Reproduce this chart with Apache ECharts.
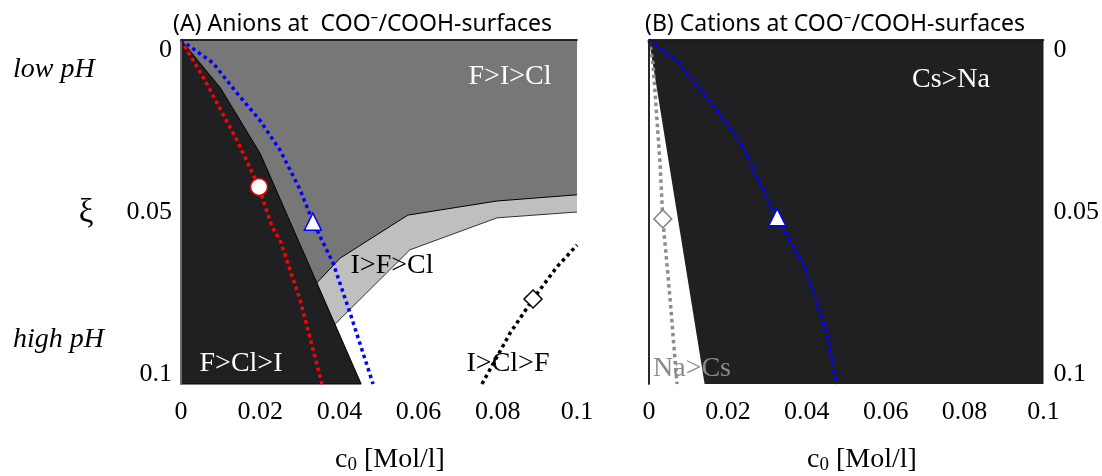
<!DOCTYPE html>
<html><head><meta charset="utf-8">
<script src="https://cdn.jsdelivr.net/npm/echarts@6/dist/echarts.min.js"></script>
<style>html,body{margin:0;padding:0;background:#fff}#c{width:1102px;height:476px}</style>
</head><body><div id="c"></div><script>
// ---- data (c0 [Mol/l], xi) ----
const xTickLabels = ['0','0.02','0.04','0.06','0.08','0.1'];
const yTickLabels = ['0','0.05','0.1'];
const axisRange = [0, 0.1];

// Panel A: region boundaries
const blackBoundaryA = [[0,0],[0.01,0.014],[0.02,0.033],[0.0455,0.1]];
const upperBoundaryA = [[0.0343,0.0706],[0.0402,0.0634],[0.0573,0.0509],[0.0798,0.0468],[0.1,0.045]];
const lowerBoundaryA = [[0.0389,0.0826],[0.0578,0.061],[0.0798,0.0517],[0.1,0.05]];
// Panel A curves
const redCurveA = [[0,0],[0.0056,0.0108],[0.0141,0.0291],[0.0197,0.0427],[0.0230,0.0544],[0.0250,0.0581],[0.0301,0.0756],[0.0356,0.1]];
const blueCurveA = [[0,0],[0.0018,0.0015],[0.0081,0.0067],[0.0141,0.0154],[0.0199,0.0233],[0.0250,0.0320],[0.0301,0.0436],[0.0333,0.0528],[0.0384,0.0648],[0.0427,0.0794],[0.0485,0.1]];
const blackCurveA = [[0.0760,0.1],[0.0831,0.0852],[0.0889,0.0753],[0.0949,0.066],[0.1,0.0596]];
const circleA = [[0.0197,0.0427]];
const triangleA = [[0.0333,0.0528]];
const diamondA = [[0.0889,0.0753]];

// Panel B
const whiteBoundaryB = [[0,0],[0.0141,0.1]];
const grayCurveB = [[0,0],[0.001,0.0067],[0.0028,0.0358],[0.0035,0.052],[0.0053,0.0747],[0.0071,0.1]];
const blueCurveB = [[0,0],[0.0076,0.0067],[0.0151,0.0174],[0.0229,0.0291],[0.0305,0.0474],[0.0325,0.0515],[0.0398,0.0669],[0.0448,0.0843],[0.0476,0.1]];
const diamondB = [[0.0035,0.052]];
const triangleB = [[0.0325,0.0515]];

// ---- colours ----
const C_BLACK = '#202022', C_MID = '#777777', C_LIGHT = '#bfbfbf';
const SERIF = '"Liberation Serif","Times New Roman",serif';
const SANS = '"Noto Sans","Open Sans",sans-serif';
const DOTS = [3.5,3.5];

function poly(ax, points, fill, stroke, z) {
  return {type:'custom', xAxisIndex:ax, yAxisIndex:ax, z:z, silent:true, data:[[0,0]],
    renderItem:(p, api)=>({type:'polygon', shape:{points:points.map(pt=>api.coord(pt))},
      style:{fill:fill, stroke:stroke||'none', lineWidth:1}})};
}
function line(ax, data, color, width, type, z) {
  return {type:'line', xAxisIndex:ax, yAxisIndex:ax, data:data, symbol:'none', z:z, silent:true,
    lineStyle:{color:color, width:width, type:type, cap:'butt'}};
}
function marker(ax, data, symbol, size, border, z) {
  return {type:'scatter', xAxisIndex:ax, yAxisIndex:ax, data:data, symbol:symbol, symbolSize:size, z:z, silent:true,
    itemStyle:{color:'#fff', borderColor:border, borderWidth:1.5, opacity:1}};
}
const lo = axisRange[0], hi = axisRange[1];
const corners = {tr:[hi,lo], br:[hi,hi], bl:[lo,hi], tl:[lo,lo]};
const A = 0, B = 2; // axis indices for panel A / panel B

function xAx(grid, pos, labels, color) {
  return {type:'value', gridIndex:grid, position:pos, min:lo, max:hi, interval:0.02, z:10,
    axisLine:{show:true, lineStyle:{color:color, width:1.5}}, axisTick:{show:false}, splitLine:{show:false},
    axisLabel:{show:labels, margin:15, fontFamily:SERIF, fontSize:26, color:'#000',
      formatter:(v)=>xTickLabels[Math.round(v/0.02)]}};
}
function yAx(grid, pos, labels, color, align, margin) {
  return {type:'value', gridIndex:grid, position:pos, min:lo, max:hi, interval:0.05, inverse:true, z:10,
    axisLine:{show:true, lineStyle:{color:color, width:1.5}}, axisTick:{show:false}, splitLine:{show:false},
    axisLabel:{show:labels, margin:margin, fontFamily:SERIF, fontSize:26, lineHeight:20, color:'#000', align:align,
      verticalAlignMinLabel:'top', verticalAlignMaxLabel:'bottom',
      formatter:(v)=>yTickLabels[Math.round(v/0.05)]}};
}

const option = {
  animation:false,
  grid:[{left:181, top:40, width:396, height:344}, {left:649, top:40, width:397, height:344}],
  xAxis:[xAx(0,'bottom',true,'#888'), xAx(0,'top',false,'#000'), xAx(1,'bottom',true,'#888'), xAx(1,'top',false,'#000')],
  yAxis:[yAx(0,'left',true,'#000','right',9), yAx(0,'right',false,'#888','left',9), yAx(1,'right',true,'#888','left',10), yAx(1,'left',false,'#000','left',9)],
  series:[
    // Panel A regions
    poly(A, [corners.tl, corners.tr, corners.br, corners.bl], C_MID, null, 1),
    poly(A, upperBoundaryA.concat([corners.br, blackBoundaryA[blackBoundaryA.length-1]]), C_LIGHT, null, 2),
    poly(A, lowerBoundaryA.concat([corners.br, blackBoundaryA[blackBoundaryA.length-1]]), '#ffffff', null, 3),
    line(A, upperBoundaryA, '#000', 1, 'solid', 4),
    line(A, lowerBoundaryA, '#333', 1, 'solid', 4),
    poly(A, blackBoundaryA.concat([corners.bl]), C_BLACK, '#000', 5),
    line(A, redCurveA, '#ff0000', 3.5, DOTS, 6),
    line(A, blueCurveA, '#0000ff', 3.5, DOTS, 6),
    line(A, blackCurveA, '#000000', 3.5, DOTS, 6),
    marker(A, circleA, 'circle', 17, '#e00000', 7),
    marker(A, triangleA, 'triangle', 17, '#0000ff', 7),
    marker(A, diamondA, 'diamond', 18, '#000', 7),
    // Panel B regions
    poly(B, [corners.tl, corners.tr, corners.br, corners.bl], C_BLACK, null, 1),
    poly(B, whiteBoundaryB.concat([corners.bl]), '#ffffff', null, 2),
    line(B, grayCurveB, '#8c8c8c', 3.5, DOTS, 6),
    line(B, blueCurveB, '#0000ff', 3.5, DOTS, 6),
    marker(B, diamondB, 'diamond', 18, '#888', 7),
    marker(B, triangleB, 'triangle', 17, '#0000ff', 7)
  ],
  graphic:[
    {type:'text', x:173, y:24, style:{text:'(A) Anions at  COO⁻/COOH-surfaces', font:'23px '+SANS, fill:'#000', align:'left', verticalAlign:'middle'}},
    {type:'text', x:645, y:24, style:{text:'(B) Cations at COO⁻/COOH-surfaces', font:'23px '+SANS, fill:'#000', align:'left', verticalAlign:'middle'}},
    {type:'text', x:13, y:70, style:{text:'low pH', font:'italic 28px '+SERIF, fill:'#000', align:'left', verticalAlign:'middle'}},
    {type:'text', x:13, y:340, style:{text:'high pH', font:'italic 28px '+SERIF, fill:'#000', align:'left', verticalAlign:'middle'}},
    {type:'text', x:86, y:213, style:{text:'ξ', font:'33px '+SERIF, fill:'#000', align:'center', verticalAlign:'middle'}},
    {type:'text', x:390, y:460, style:{text:'{m|c}{s|0}{m| [Mol/l]}', align:'center', verticalAlign:'middle',
      rich:{m:{font:'28px '+SERIF, fill:'#000', lineHeight:30, verticalAlign:'middle'}, s:{font:'19px '+SERIF, fill:'#000', lineHeight:30, verticalAlign:'bottom'}}}},
    {type:'text', x:862, y:460, style:{text:'{m|c}{s|0}{m| [Mol/l]}', align:'center', verticalAlign:'middle',
      rich:{m:{font:'28px '+SERIF, fill:'#000', lineHeight:30, verticalAlign:'middle'}, s:{font:'19px '+SERIF, fill:'#000', lineHeight:30, verticalAlign:'bottom'}}}},
    {type:'text', x:510, y:77, z:100, style:{text:'F>I>Cl', font:'28px '+SERIF, fill:'#fff', align:'center', verticalAlign:'middle'}},
    {type:'text', x:392, y:266, z:100, style:{text:'I>F>Cl', font:'28px '+SERIF, fill:'#000', align:'center', verticalAlign:'middle'}},
    {type:'text', x:241, y:364, z:100, style:{text:'F>Cl>I', font:'28px '+SERIF, fill:'#fff', align:'center', verticalAlign:'middle'}},
    {type:'text', x:508, y:364, z:100, style:{text:'I>Cl>F', font:'28px '+SERIF, fill:'#000', align:'center', verticalAlign:'middle'}},
    {type:'text', x:951, y:80, z:100, style:{text:'Cs>Na', font:'28px '+SERIF, fill:'#fff', align:'center', verticalAlign:'middle'}},
    {type:'text', x:692, y:369, z:100, style:{text:'Na>Cs', font:'28px '+SERIF, fill:'#8a8a8a', align:'center', verticalAlign:'middle'}}
  ]
};
const chart = echarts.init(document.getElementById('c'), null, {renderer:'canvas'});
chart.setOption(option);
</script></body></html>
